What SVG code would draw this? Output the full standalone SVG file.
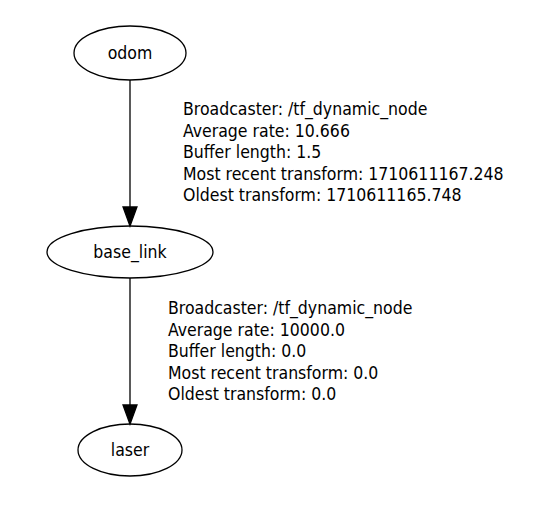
<svg xmlns="http://www.w3.org/2000/svg" width="555" height="525" viewBox="0 0 555 525">
<defs>
<style>
.node ellipse{fill:none;stroke:#000;stroke-width:1.3}
.node text{font-family:"DejaVu Sans Condensed","DejaVu Sans",sans-serif;font-stretch:condensed;font-size:17.5px;text-anchor:middle;fill:#000}
.edge line{stroke:#000;stroke-width:1.3}
.edge polygon{fill:#000;stroke:#000;stroke-width:1.3}
.lbl{font-family:"DejaVu Sans Condensed","DejaVu Sans",sans-serif;font-stretch:condensed;font-size:17.5px;fill:#000}
</style>
</defs>
<rect width="555" height="525" fill="#fff"/>
<g id="edges" class="edge">
<g id="edge_odom_base_link">
<line x1="130" y1="80" x2="130" y2="207"/>
<polygon points="123,207 137,207 130,226"/>
<text class="lbl" x="183"><tspan x="183" y="115">Broadcaster: /tf_dynamic_node</tspan><tspan x="183" y="136.5">Average rate: 10.666</tspan><tspan x="183" y="158">Buffer length: 1.5</tspan><tspan x="183" y="179.5">Most recent transform: 1710611167.248</tspan><tspan x="183" y="201">Oldest transform: 1710611165.748</tspan></text>
</g>
<g id="edge_base_link_laser">
<line x1="130" y1="278" x2="130" y2="405"/>
<polygon points="123,405 137,405 130,424"/>
<text class="lbl" x="168"><tspan x="168" y="314">Broadcaster: /tf_dynamic_node</tspan><tspan x="168" y="335.5">Average rate: 10000.0</tspan><tspan x="168" y="357">Buffer length: 0.0</tspan><tspan x="168" y="378.5">Most recent transform: 0.0</tspan><tspan x="168" y="400">Oldest transform: 0.0</tspan></text>
</g>
</g>
<g id="odom" class="node">
<ellipse cx="130" cy="53" rx="56" ry="27"/>
<text x="130" y="59">odom</text>
</g>
<g id="base_link" class="node">
<ellipse cx="130" cy="252" rx="83" ry="26"/>
<text x="130" y="258">base_link</text>
</g>
<g id="laser" class="node">
<ellipse cx="130" cy="450" rx="52" ry="26"/>
<text x="130" y="456">laser</text>
</g>
</svg>
